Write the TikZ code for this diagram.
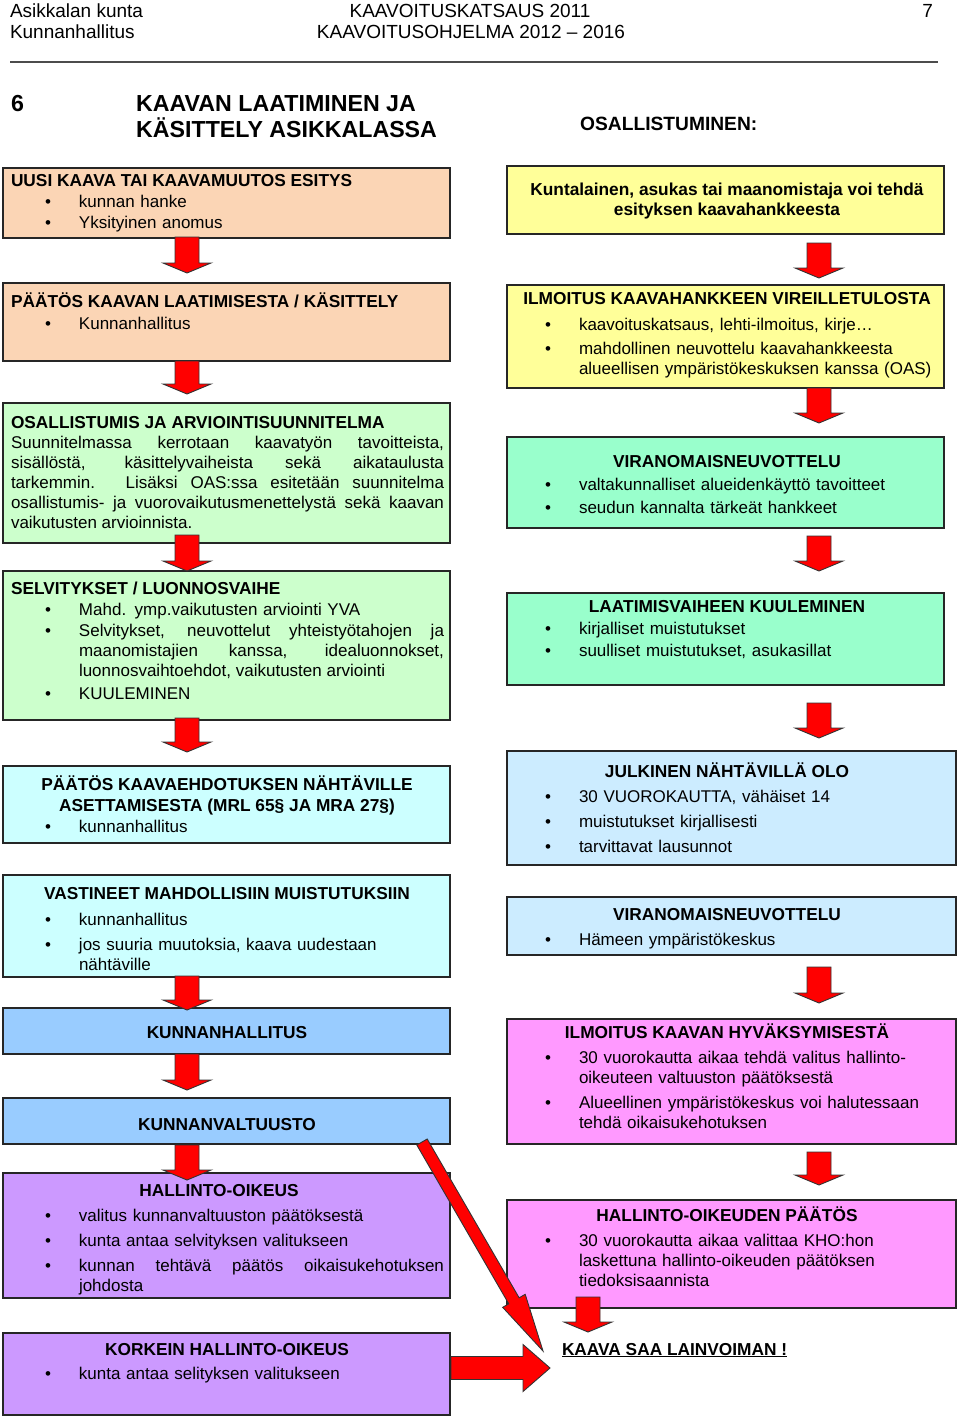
\documentclass[tikz,border=0pt]{standalone}
\usepackage{fontspec}
\setmainfont{Liberation Sans}
\usetikzlibrary{calc}
\definecolor{peach}{HTML}{FBD5B5}
\definecolor{lgreen}{HTML}{CCFFCC}
\definecolor{mint}{HTML}{99FFCC}
\definecolor{lcyan}{HTML}{CCFFFF}
\definecolor{lblue}{HTML}{CCECFF}
\definecolor{mblue}{HTML}{99CCFF}
\definecolor{lilac}{HTML}{CC99FF}
\definecolor{pinkbox}{HTML}{FF99FF}
\definecolor{lyellow}{HTML}{FFFF99}
\definecolor{arrred}{HTML}{FF0000}
\newcommand\mybul{\llap{\textbullet\hspace{28pt}}}
\newcommand\blockarrow[5]{%
  \coordinate (tmpH) at ($(#2)!#5!(#1)$);
  \draw[arr] ($(#1)!#3!90:(#2)$) -- ($(tmpH)!#3!90:(#2)$) -- ($(tmpH)!#4!90:(#2)$) -- (#2)
    -- ($(tmpH)!#4!-90:(#2)$) -- ($(tmpH)!#3!-90:(#2)$) -- ($(#1)!#3!-90:(#2)$) -- cycle;
}
\tikzset{
  box/.style={draw=black!85, line width=1.6pt, anchor=north west, inner sep=0pt, outer sep=0pt},
  tx/.style={font=\fontsize{17}{20}\selectfont, inner sep=0pt, outer sep=0pt, anchor=base west},
  ttl/.style={tx, font=\fontsize{17.3}{20}\selectfont\bfseries},
  ctl/.style={ttl, anchor=base},
  itm/.style={tx, text width=#1, align=left},
  itm/.default=370pt,
  jst/.style={tx, text width=#1, align=justify},
  hdr/.style={font=\fontsize{19}{22}\selectfont, inner sep=0pt, outer sep=0pt},
  arr/.style={fill=arrred, draw=black!80, line width=0.9pt, line join=miter},
}
\begin{document}
\begin{tikzpicture}[x=1pt,y=-1pt]
\fill[white] (0,0) rectangle (960,1419);
\useasboundingbox (0,0) rectangle (960,1419);

% header
\node[hdr, anchor=base west] (h1) at (10,17) {Asikkalan kunta};
\node[hdr, anchor=base west] (h2) at (10,38) {Kunnanhallitus};
\node[hdr, anchor=base] (h3) at (470,17) {KAAVOITUSKATSAUS 2011};
\node[hdr, anchor=base] (h4) at (471,38) {KAAVOITUSOHJELMA 2012 – 2016};
\node[hdr, anchor=base east] (h5) at (933,17) {7};
\coordinate (r1) at (10,62);
\coordinate (r2) at (938,62);
\draw[black!70, line width=1.3pt] (r1) -- (r2);

\node[font=\fontsize{23.2}{27}\selectfont\bfseries, inner sep=0pt, anchor=base west] (n6) at (11,111) {6};
\node[font=\fontsize{23.2}{27}\selectfont\bfseries, inner sep=0pt, anchor=base west] (t1) at (136,111) {KAAVAN LAATIMINEN JA};
\node[font=\fontsize{23.2}{27}\selectfont\bfseries, inner sep=0pt, anchor=base west] (t2) at (136,137) {KÄSITTELY ASIKKALASSA};
\node[font=\fontsize{19.2}{22}\selectfont\bfseries, inner sep=0pt, anchor=base west] (t3) at (580,130) {OSALLISTUMINEN:};

% left column boxes
\node[box, fill=peach, minimum width=447pt, minimum height=70pt] (L1) at (3,168) {};
\node[box, fill=peach, minimum width=447pt, minimum height=78pt] (L2) at (3,283) {};
\node[box, fill=lgreen, minimum width=447pt, minimum height=140pt] (L3) at (3,403) {};
\node[box, fill=lgreen, minimum width=447pt, minimum height=149pt] (L4) at (3,571) {};
\node[box, fill=lcyan, minimum width=447pt, minimum height=77pt] (L5) at (3,766) {};
\node[box, fill=lcyan, minimum width=447pt, minimum height=102pt] (L6) at (3,875) {};
\node[box, fill=mblue, minimum width=447pt, minimum height=46pt] (L7) at (3,1008) {};
\node[box, fill=mblue, minimum width=447pt, minimum height=46pt] (L8) at (3,1098) {};
\node[box, fill=lilac, minimum width=447pt, minimum height=125pt] (L9) at (3,1173) {};
\node[box, fill=lilac, minimum width=447pt, minimum height=82pt] (L10) at (3,1333) {};

% right column boxes
\node[box, fill=lyellow, minimum width=437pt, minimum height=68pt] (R1) at (507,166) {};
\node[box, fill=lyellow, minimum width=437pt, minimum height=103pt] (R2) at (507,285) {};
\node[box, fill=mint, minimum width=437pt, minimum height=91pt] (R3) at (507,437) {};
\node[box, fill=mint, minimum width=437pt, minimum height=92pt] (R4) at (507,593) {};
\node[box, fill=lblue, minimum width=449pt, minimum height=114pt] (R5) at (507,751) {};
\node[box, fill=lblue, minimum width=449pt, minimum height=58pt] (R6) at (507,897) {};
\node[box, fill=pinkbox, minimum width=449pt, minimum height=125pt] (R7) at (507,1019) {};
\node[box, fill=pinkbox, minimum width=449pt, minimum height=108pt] (R8) at (507,1200) {};

% left texts
\node[ttl] (L1t) at (11,186) {UUSI KAAVA TAI KAAVAMUUTOS ESITYS};
\node[itm] (L1a) at (79,207) {\mybul kunnan hanke};
\node[itm] (L1b) at (79,228) {\mybul Yksityinen anomus};

\node[ttl] (L2t) at (11,307) {PÄÄTÖS KAAVAN LAATIMISESTA / KÄSITTELY};
\node[itm] (L2a) at (79,329) {\mybul Kunnanhallitus};

\node[ttl] (L3t) at (11,428) {OSALLISTUMIS JA ARVIOINTISUUNNITELMA};
\node[jst=433pt] (L3a) at (11,448) {\hyphenpenalty=10000\exhyphenpenalty=10000
Suunnitelmassa kerrotaan kaavatyön tavoitteista,\linebreak
sisällöstä, käsittelyvaiheista sekä aikataulusta\linebreak
tarkemmin. Lisäksi OAS:ssa esitetään suunnitelma\linebreak
osallistumis- ja vuorovaikutusmenettelystä sekä kaavan\linebreak
vaikutusten arvioinnista.};

\node[ttl] (L4t) at (11,594) {SELVITYKSET / LUONNOSVAIHE};
\node[itm] (L4a) at (79,615) {\mybul Mahd. ymp.vaikutusten arviointi YVA};
\node[jst=365pt] (L4b) at (79,636) {\hyphenpenalty=10000\exhyphenpenalty=10000
\mybul Selvitykset, neuvottelut yhteistyötahojen ja\linebreak
maanomistajien kanssa, idealuonnokset,\linebreak
luonnosvaihtoehdot, vaikutusten arviointi};
\node[itm] (L4c) at (79,699) {\mybul KUULEMINEN};

\node[ctl] (L5t) at (227,790) {PÄÄTÖS KAAVAEHDOTUKSEN NÄHTÄVILLE};
\node[ctl] (L5u) at (227,811) {ASETTAMISESTA (MRL 65§ JA MRA 27§)};
\node[itm] (L5a) at (79,832) {\mybul kunnanhallitus};

\node[ctl] (L6t) at (227,899) {VASTINEET MAHDOLLISIIN MUISTUTUKSIIN};
\node[itm] (L6a) at (79,925) {\mybul kunnanhallitus};
\node[itm] (L6b) at (79,950) {\mybul jos suuria muutoksia, kaava uudestaan\\nähtäville};

\node[ctl] (L7t) at (227,1038) {KUNNANHALLITUS};
\node[ctl] (L8t) at (227,1130) {KUNNANVALTUUSTO};

\node[ctl] (L9t) at (219,1196) {HALLINTO-OIKEUS};
\node[itm] (L9a) at (79,1221) {\mybul valitus kunnanvaltuuston päätöksestä};
\node[itm] (L9b) at (79,1246) {\mybul kunta antaa selvityksen valitukseen};
\node[jst=365pt] (L9c) at (79,1271) {\hyphenpenalty=10000
\mybul kunnan tehtävä päätös oikaisukehotuksen\linebreak johdosta};

\node[ctl] (L10t) at (227,1355) {KORKEIN HALLINTO-OIKEUS};
\node[itm] (L10a) at (79,1379) {\mybul kunta antaa selityksen valitukseen};

% right texts
\node[ctl] (R1t) at (727,195) {Kuntalainen, asukas tai maanomistaja voi tehdä};
\node[ctl] (R1u) at (727,215) {esityksen kaavahankkeesta};

\node[ctl] (R2t) at (727,304) {ILMOITUS KAAVAHANKKEEN VIREILLETULOSTA};
\node[itm] (R2a) at (579,330) {\mybul kaavoituskatsaus, lehti-ilmoitus, kirje…};
\node[itm] (R2b) at (579,354) {\mybul mahdollinen neuvottelu kaavahankkeesta\\alueellisen ympäristökeskuksen kanssa (OAS)};

\node[ctl] (R3t) at (727,467) {VIRANOMAISNEUVOTTELU};
\node[itm] (R3a) at (579,490) {\mybul valtakunnalliset alueidenkäyttö tavoitteet};
\node[itm] (R3b) at (579,513) {\mybul seudun kannalta tärkeät hankkeet};

\node[ctl] (R4t) at (727,612) {LAATIMISVAIHEEN KUULEMINEN};
\node[itm] (R4a) at (579,634) {\mybul kirjalliset muistutukset};
\node[itm] (R4b) at (579,656) {\mybul suulliset muistutukset, asukasillat};

\node[ctl] (R5t) at (727,777) {JULKINEN NÄHTÄVILLÄ OLO};
\node[itm] (R5a) at (579,802) {\mybul 30 VUOROKAUTTA, vähäiset 14};
\node[itm] (R5b) at (579,827) {\mybul muistutukset kirjallisesti};
\node[itm] (R5c) at (579,852) {\mybul tarvittavat lausunnot};

\node[ctl] (R6t) at (727,920) {VIRANOMAISNEUVOTTELU};
\node[itm] (R6a) at (579,945) {\mybul Hämeen ympäristökeskus};

\node[ctl] (R7t) at (727,1038) {ILMOITUS KAAVAN HYVÄKSYMISESTÄ};
\node[itm] (R7a) at (579,1063) {\mybul 30 vuorokautta aikaa tehdä valitus hallinto-\\oikeuteen valtuuston päätöksestä};
\node[itm] (R7b) at (579,1108) {\mybul Alueellinen ympäristökeskus voi halutessaan\\tehdä oikaisukehotuksen};

\node[ctl] (R8t) at (727,1221) {HALLINTO-OIKEUDEN PÄÄTÖS};
\node[itm] (R8a) at (579,1246) {\mybul 30 vuorokautta aikaa valittaa KHO:hon\\laskettuna hallinto-oikeuden päätöksen\\tiedoksisaannista};

\node[ttl] (KS) at (562,1355) {\underline{KAAVA SAA LAINVOIMAN !}};

% arrow end points
\coordinate (a1s) at (187,237);  \coordinate (a1e) at (187,273);
\coordinate (a2s) at (187,361);  \coordinate (a2e) at (187,394);
\coordinate (a3s) at (187,535);  \coordinate (a3e) at (187,571);
\coordinate (a4s) at (187,718);  \coordinate (a4e) at (187,752);
\coordinate (a5s) at (187,976);  \coordinate (a5e) at (187,1010);
\coordinate (a6s) at (187,1054); \coordinate (a6e) at (187,1090);
\coordinate (a7s) at (187,1145); \coordinate (a7e) at (187,1180);
\coordinate (b1s) at (819,243);  \coordinate (b1e) at (819,278);
\coordinate (b2s) at (819,388);  \coordinate (b2e) at (819,423);
\coordinate (b3s) at (819,536);  \coordinate (b3e) at (819,571);
\coordinate (b4s) at (819,703);  \coordinate (b4e) at (819,738);
\coordinate (b5s) at (819,967);  \coordinate (b5e) at (819,1003);
\coordinate (b6s) at (819,1152); \coordinate (b6e) at (819,1185);
\coordinate (b7s) at (588,1297); \coordinate (b7e) at (588,1332);
\coordinate (c1s) at (451,1368); \coordinate (c1e) at (550,1368);
\coordinate (d1s) at (422,1142); \coordinate (d1e) at (543,1351);

\foreach \a in {a1,a2,a3,a4,a5,a6,a7,b1,b2,b3,b4,b5,b6,b7}{
  \blockarrow{\a s}{\a e}{12pt}{24pt}{10pt}
}
\blockarrow{c1s}{c1e}{11.5pt}{23.5pt}{27pt}
\blockarrow{d1s}{d1e}{6pt}{13pt}{58pt}
\end{tikzpicture}
\end{document}
